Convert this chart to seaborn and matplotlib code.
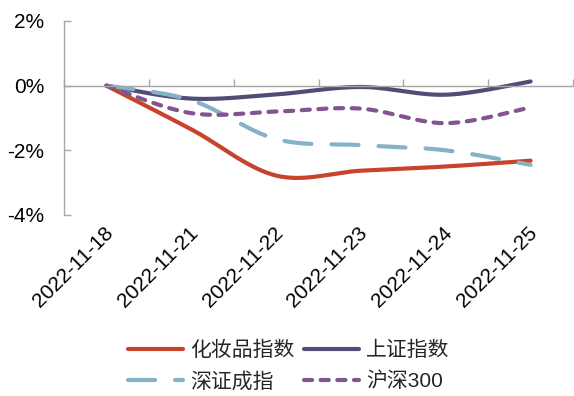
import numpy as np
import pandas as pd
import matplotlib
matplotlib.use("Agg")
import matplotlib.pyplot as plt
import matplotlib.transforms as mtransforms
import seaborn as sns

# Daily cumulative change (%) of each index since 2022-11-18
dates = ["2022-11-18", "2022-11-21", "2022-11-22", "2022-11-23", "2022-11-24", "2022-11-25"]
cosmetics = [0.00, -1.35, -2.78, -2.63, -2.50, -2.32]
sse = [0.00, -0.40, -0.27, -0.04, -0.28, 0.13]
szse = [0.00, -0.45, -1.65, -1.84, -2.00, -2.45]
csi300 = [0.00, -0.85, -0.80, -0.71, -1.16, -0.67]

series_names = ["化妆品指数", "上证指数", "深证成指", "沪深300"]
series_values = [cosmetics, sse, szse, csi300]
colors = ["#C8432B", "#534C78", "#86B2C8", "#83558E"]
dash_styles = ["-", "-", (0, (6.5, 4.8)), (0, (1.95, 2.05))]

sns.set_theme(style="white")
plt.rcParams["font.family"] = ["Liberation Sans", "Noto Sans CJK SC", "DejaVu Sans"]
plt.rcParams["axes.unicode_minus"] = False


def smooth_curve(y, steps=40):
    """Cubic Bezier smoothing through the points (Catmull-Rom style tangents)."""
    y = np.asarray(y, dtype=float)
    x = np.arange(len(y), dtype=float)
    pts = np.column_stack([x, y])
    out = [pts[0]]
    t = np.linspace(0, 1, steps)[1:, None]
    for i in range(len(pts) - 1):
        p0 = pts[max(i - 1, 0)]
        p1 = pts[i]
        p2 = pts[i + 1]
        p3 = pts[min(i + 2, len(pts) - 1)]
        c1 = p1 + (p2 - p0) / 6.0
        c2 = p2 - (p3 - p1) / 6.0
        seg = ((1 - t) ** 3) * p1 + 3 * ((1 - t) ** 2) * t * c1 + 3 * (1 - t) * t ** 2 * c2 + t ** 3 * p2
        out.extend(seg)
    out = np.array(out)
    return out[:, 0], out[:, 1]


fig = plt.figure(figsize=(5.74, 3.96), dpi=100)
ax = fig.add_axes([64 / 574, 1 - 215 / 396, 509 / 574, 194 / 396])

frames = []
for name, vals in zip(series_names, series_values):
    sx, sy = smooth_curve(vals)
    frames.append(pd.DataFrame({"pos": sx, "value": sy, "series": name}))
data = pd.concat(frames, ignore_index=True)

for name, color, ls in zip(series_names, colors, dash_styles):
    sub = data[data["series"] == name]
    sns.lineplot(data=sub, x="pos", y="value", ax=ax, color=color, linewidth=3,
                 sort=False, estimator=None, label=name, legend=False)
    line = ax.lines[-1]
    line.set_linestyle(ls)
    line.set_dash_capstyle("round")
    line.set_solid_capstyle("round")

ax.set_xlim(-0.5, len(dates) - 0.5)
ax.set_ylim(-4, 2)
ax.set_xlabel("")
ax.set_ylabel("")

spine_color = "#A6A6A6"
for side in ["top", "right"]:
    ax.spines[side].set_visible(False)
ax.spines["left"].set_color(spine_color)
ax.spines["left"].set_linewidth(1)
ax.spines["bottom"].set_color(spine_color)
ax.spines["bottom"].set_linewidth(1)
ax.spines["bottom"].set_position(("data", 0))

ax.set_yticks([-4, -2, 0, 2])
ax.set_yticklabels(["-4%", "-2%", "0%", "2%"])
ax.tick_params(axis="y", direction="in", length=5, width=1, color=spine_color,
               labelsize=15, pad=14, labelcolor="black", left=True)

# category boundary ticks on the zero line
ax.set_xticks(np.arange(-0.5, len(dates), 1.0))
ax.set_xticklabels([])
ax.tick_params(axis="x", direction="in", length=5, width=1, color=spine_color, bottom=True)

# date labels along the bottom of the plot area
sec = ax.secondary_xaxis(0)
sec.set_xticks(range(len(dates)))
sec.set_xticklabels(dates, rotation=45, ha="right", rotation_mode="anchor")
sec.tick_params(axis="x", length=0, labelsize=15, pad=6, labelcolor="black")
sec.spines["bottom"].set_visible(False)
shift = mtransforms.ScaledTranslation(-3 / 100, 0, fig.dpi_scale_trans)
for lbl in sec.get_xticklabels():
    lbl.set_transform(lbl.get_transform() + shift)

handles = {l.get_label(): l for l in ax.lines}
order = ["化妆品指数", "深证成指", "上证指数", "沪深300"]
fig.legend([handles[n] for n in order], order, loc="center",
           bbox_to_anchor=(0.503, 0.076), bbox_transform=fig.transFigure,
           ncol=2, frameon=False, fontsize=15, handlelength=2.65,
           handletextpad=0.35, columnspacing=0.45, labelspacing=0.55)

fig.savefig("out.png", dpi=100)
